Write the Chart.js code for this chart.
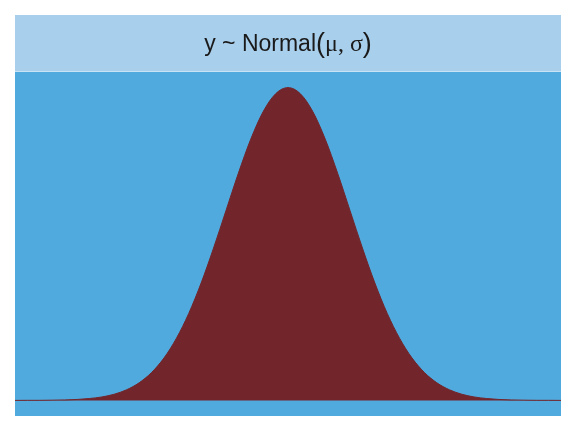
<!DOCTYPE html>
<html>
<head>
<meta charset="utf-8">
<script src="https://cdn.jsdelivr.net/npm/chart.js@4"></script>
<style>
  html, body { margin: 0; padding: 0; background: #ffffff; }
  #wrap { width: 576px; height: 432px; }
</style>
</head>
<body>
<div id="wrap"><canvas id="normal-chart" width="576" height="432"></canvas></div>
<script>
// z positions (in sigma units) and density
const zValues = [
  -4.4, -4.2, -4.0, -3.8, -3.6, -3.4, -3.2, -3.0, -2.8, -2.6, -2.4, -2.2,
  -2.0, -1.8, -1.6, -1.4, -1.2, -1.0, -0.8, -0.6, -0.4, -0.2, 0.0,
  0.2, 0.4, 0.6, 0.8, 1.0, 1.2, 1.4, 1.6, 1.8, 2.0,
  2.2, 2.4, 2.6, 2.8, 3.0, 3.2, 3.4, 3.6, 3.8, 4.0, 4.2, 4.4
];
const density = [
  0.0000, 0.0001, 0.0001, 0.0003, 0.0006, 0.0012, 0.0024, 0.0044, 0.0079, 0.0136, 0.0224, 0.0355,
  0.0540, 0.0790, 0.1109, 0.1497, 0.1942, 0.2420, 0.2897, 0.3332, 0.3683, 0.3910, 0.3989,
  0.3910, 0.3683, 0.3332, 0.2897, 0.2420, 0.1942, 0.1497, 0.1109, 0.0790, 0.0540,
  0.0355, 0.0224, 0.0136, 0.0079, 0.0044, 0.0024, 0.0012, 0.0006, 0.0003, 0.0001, 0.0001, 0.0000
];
const titleParts = [
  { text: 'y ~ Normal', font: '23px "Liberation Sans", Arial, sans-serif' },
  { text: '(', font: '27px "Liberation Sans", Arial, sans-serif' },
  { text: 'μ, σ', font: '24px "Liberation Serif", "Times New Roman", serif' },
  { text: ')', font: '27px "Liberation Sans", Arial, sans-serif' }
];

const panelColor = '#50aade';
const stripColor = '#a8cfeb';
const fillColor  = '#72252b';

const panelPlugin = {
  id: 'panel',
  beforeDraw(chart) {
    const { ctx, chartArea } = chart;
    const { left, right, top, bottom } = chartArea;
    ctx.save();
    ctx.fillStyle = panelColor;
    ctx.fillRect(left, top, right - left, bottom - top);
    ctx.fillStyle = stripColor;
    ctx.fillRect(left, 15, right - left, top - 15);
    ctx.fillStyle = '#c9e3f5';
    ctx.fillRect(left, top - 1, right - left, 1);

    // strip label, mixed fonts like plotmath
    let total = 0;
    titleParts.forEach(p => { ctx.font = p.font; total += ctx.measureText(p.text).width; });
    let x = (left + right) / 2 - total / 2;
    const y = (15 + top) / 2 + 1;
    ctx.fillStyle = '#1a1a1a';
    ctx.textBaseline = 'middle';
    ctx.textAlign = 'left';
    titleParts.forEach(p => {
      ctx.font = p.font;
      ctx.fillText(p.text, x, y);
      x += ctx.measureText(p.text).width;
    });
    ctx.restore();
  }
};

const ctx = document.getElementById('normal-chart').getContext('2d');
new Chart(ctx, {
  type: 'line',
  data: {
    datasets: [{
      data: zValues.map((z, i) => ({ x: z, y: density[i] })),
      borderColor: fillColor,
      backgroundColor: fillColor,
      borderWidth: 1,
      fill: 'origin',
      pointRadius: 0,
      cubicInterpolationMode: 'monotone'
    }]
  },
  options: {
    responsive: false,
    animation: false,
    layout: { padding: { left: 15, right: 15, top: 72, bottom: 16 } },
    plugins: { legend: { display: false }, tooltip: { enabled: false }, title: { display: false } },
    scales: {
      x: { type: 'linear', min: -4.4, max: 4.4, display: false },
      y: { min: -0.0199, max: 0.4188, display: false }
    }
  },
  plugins: [panelPlugin]
});
</script>
</body>
</html>
